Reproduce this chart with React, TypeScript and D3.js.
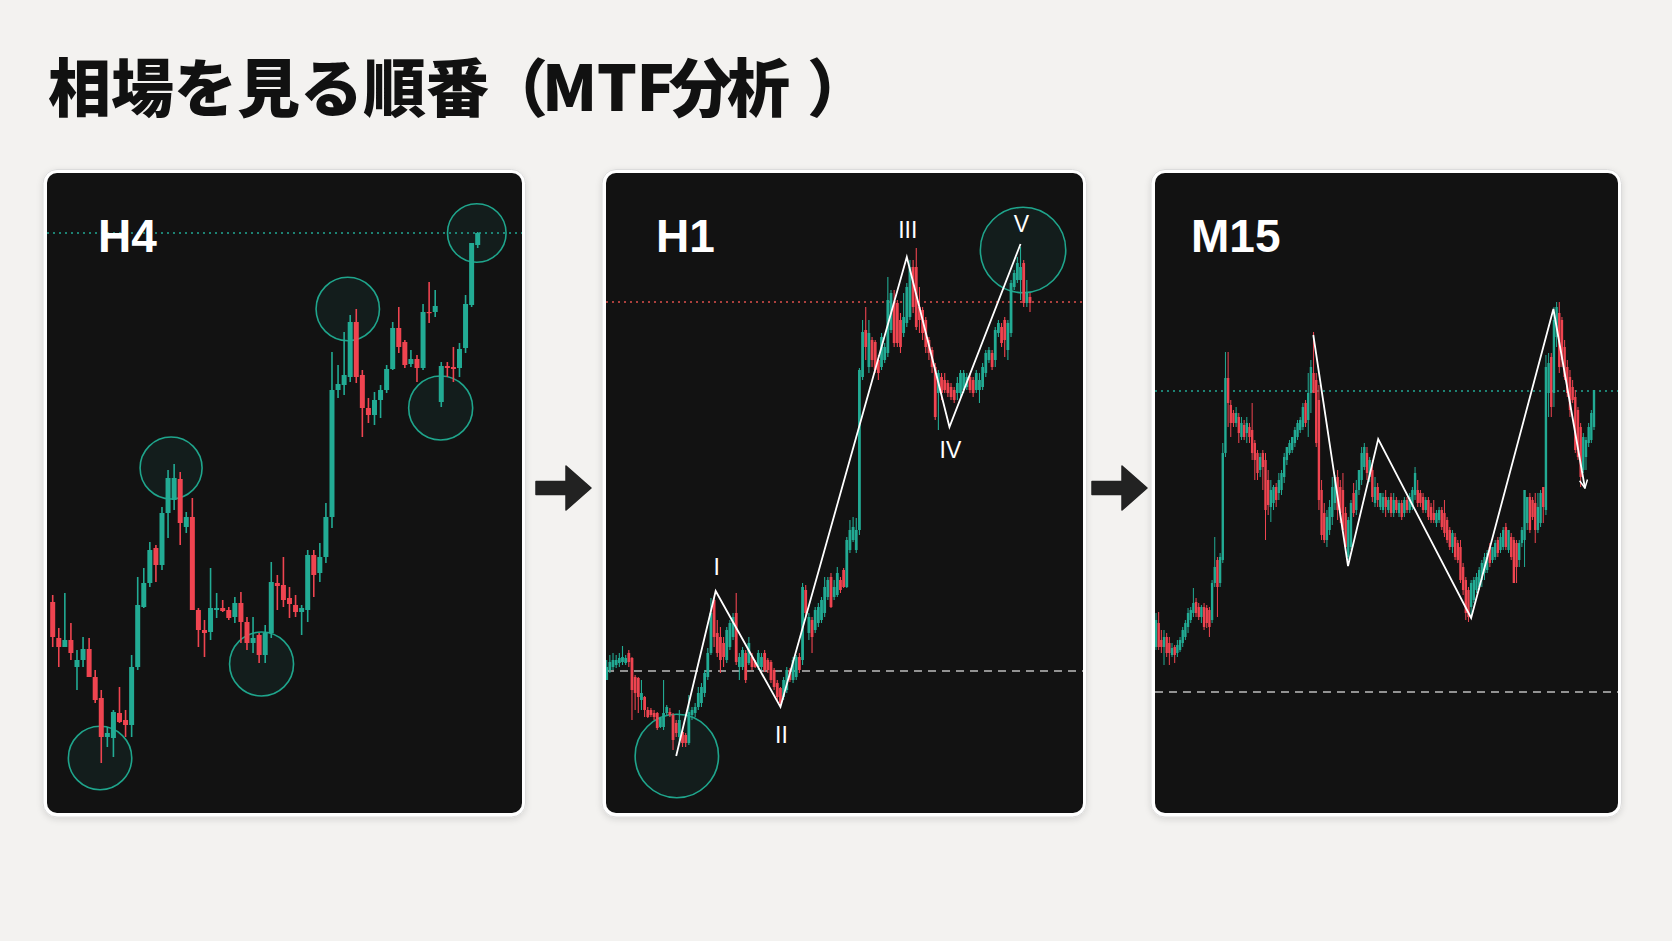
import React from "react";
import * as d3 from "d3";

type OHLC = [number, number, number, number];
type Pt = [number, number];
type Zone = [number, number, number];

const titleParts = ["相場を見る順番", "（", "MTF", "分析", "）"];
const panelLabels = ["H4", "H1", "M15"];

// ---- H4 data (price units) ----
const h4Candles: OHLC[] = [
  [398,405,353,363],[362,372,333,353],[353,407,353,360],[360,377,340,347],[333,350,310,340],
  [340,363,333,351],[351,362,323,323],[323,330,297,300],[302,310,237,263],[263,273,253,267],
  [262,290,243,288],[287,313,277,278],[280,290,263,275],[275,345,263,333],[333,423,330,395],
  [393,432,392,417],[417,458,413,450],[452,455,418,435],[435,493,430,487],[487,530,462,522],
  [500,536,490,522],[521,528,455,477],[473,488,467,483],[483,502,390,390],[390,392,353,370],
  [370,380,343,367],[368,432,360,392],[390,407,382,392],[392,400,388,389],[390,393,380,382],
  [383,403,377,397],[397,408,357,378],[378,383,350,357],[357,383,347,362],[365,367,337,345],
  [345,375,337,367],[367,438,362,418],[417,425,390,414],[415,443,393,400],[402,413,382,396],
  [395,405,383,388],[388,395,365,392],[390,450,378,445],[445,450,403,425],[427,457,418,443],
  [443,497,437,483],[483,648,472,610],[610,635,602,616],[615,668,605,625],[623,685,618,678],
  [678,691,617,623],[625,630,563,592],[592,602,577,585],[585,608,575,600],[600,615,582,610],
  [610,635,607,631],[631,678,630,672],[672,693,647,653],[658,660,632,635],[636,650,633,641],
  [641,645,618,632],[632,696,630,688],[688,718,677,687],[688,710,683,694],[598,638,593,634],
  [634,638,623,632],[633,653,618,631],[632,657,623,651],[652,705,647,696],[695,757,693,757],
  [755,768,752,767],
];
const h4Level = 767;
const h4Zones: Zone[] = [
  [7.8, 242, 31.7], [19.5, 532, 31], [34.4, 336, 32], [48.6, 691, 31.7], [63.9, 592, 32], [69.85, 767, 29.3],
];

// ---- H1 data ----
const h1Candles: OHLC[] = [
  [320,340,320,333],[330,345,327,338],[333,347,330,340],[335,345,332,340],[337,347,333,342],
  [338,354,335,343],[337,345,335,342],[347,350,333,338],[342,343,280,310],[323,325,290,307],
  [322,323,287,303],[300,320,290,307],[303,304,283,290],[290,293,282,283],[290,292,283,285],
  [287,290,280,283],[287,288,270,272],[273,283,272,282],[273,320,270,287],[287,295,285,293],
  [288,292,283,285],[285,287,250,260],[277,280,263,267],[263,290,257,280],[268,272,253,257],
  [265,267,253,257],[257,305,255,288],[285,293,280,290],[287,297,283,293],[293,313,290,307],
  [297,317,293,313],[307,330,303,327],[323,352,320,347],[347,402,345,387],[400,402,353,363],
  [367,380,343,347],[363,373,327,340],[357,363,333,343],[340,373,337,370],[353,380,350,377],
  [363,387,360,383],[387,407,335,338],[333,347,320,343],[333,353,330,350],[347,350,317,320],
  [337,363,335,357],[343,347,330,333],[338,340,332,333],[333,350,330,347],[333,347,330,343],
  [347,350,328,330],[340,342,327,330],[338,340,317,320],[330,332,310,313],[317,320,300,303],
  [312,313,293,297],[303,323,300,320],[310,333,307,330],[330,332,318,320],[320,343,317,340],
  [323,345,320,343],[343,347,327,330],[340,417,335,413],[410,415,383,387],[367,387,360,383],
  [380,383,347,363],[370,393,367,390],[377,397,373,393],[380,403,377,400],[387,423,383,413],
  [403,423,400,420],[423,427,392,393],[403,420,400,413],[405,433,403,427],[420,423,407,410],
  [430,432,412,413],[413,463,412,460],[450,480,447,470],[460,483,458,473],[450,482,447,470],
  [470,632,465,630],[623,680,620,668],[670,693,640,653],[633,680,627,667],[660,663,633,640],
  [658,660,627,630],[640,645,620,627],[633,667,630,663],[640,657,637,653],[647,723,643,700],
  [670,710,667,707],[697,710,653,657],[697,700,653,657],[680,687,647,653],[667,707,663,683],
  [677,717,673,713],[683,740,680,733],[733,740,687,693],[733,752,670,673],[693,713,667,680],
  [690,693,660,667],[680,683,647,653],[660,663,640,647],[650,653,627,633],[633,637,580,583],
  [607,630,570,627],[623,627,600,607],[620,627,607,610],[617,620,603,607],[613,617,600,603],
  [610,613,597,600],[607,623,600,617],[607,630,603,627],[610,630,607,627],[613,627,610,623],
  [623,627,607,610],[620,623,603,607],[610,630,607,627],[610,627,597,620],[613,637,610,633],
  [627,650,623,647],[640,653,637,650],[647,650,630,633],[640,673,633,670],[667,680,663,677],
  [673,677,653,657],[680,683,643,660],[650,680,640,677],[667,720,663,717],[713,730,710,727],
  [720,743,717,737],[720,753,700,733],[737,740,693,697],[697,720,693,707],[703,707,688,697],
];
const h1Resistance = 698;
const h1Support = 329;
const h1Wave: Pt[] = [[22, 244], [34.5, 409], [55, 293], [95, 743], [108.5, 573], [131, 756]];
const h1WaveLabels = ["", "I", "II", "III", "IV", "V"];
const h1Zones: Zone[] = [[22.2, 244, 41.7], [131.8, 750, 42.7]];

// ---- M15 data ----
const m15Candles: OHLC[] = [
  [353,387,350,380],[377,388,350,353],[360,370,347,353],[353,370,335,363],[363,367,343,347],
  [357,363,335,347],[345,357,343,352],[353,355,337,345],[347,360,343,355],[350,363,348,360],
  [357,373,353,370],[363,380,360,377],[373,392,367,387],[380,393,377,390],[387,412,383,397],
  [398,402,383,387],[393,397,380,383],[383,395,377,393],[393,397,370,373],[392,395,372,377],
  [390,393,363,373],[380,420,377,417],[417,463,413,433],[440,443,383,413],[417,447,413,443],
  [440,557,437,547],
  [547,648,543,622],[622,648,573,597],[595,600,563,577],[587,590,573,577],[577,593,573,587],
  [583,587,557,567],[563,583,560,577],[575,580,560,563],[567,583,557,577],[573,577,557,563],
  [570,597,540,547],[557,560,520,540],[547,550,520,527],[530,547,523,543],[547,550,510,533],
  [540,547,460,490],[520,530,485,495],[493,520,478,510],[497,515,490,513],[513,517,493,500],
  [507,527,500,520],[510,530,505,527],[523,547,517,543],[540,553,535,553],[547,560,545,557],
  [550,563,547,563],[557,573,553,570],[563,580,560,577],[570,583,567,580],[573,597,570,593],
  [597,600,573,577],[580,627,563,607],[607,640,587,633],[627,668,607,607],[620,627,553,557],
  [600,615,490,500],[510,520,460,465],[487,497,457,460],[460,490,453,483],[470,500,465,493],
  [483,523,475,513],[497,525,490,523],[523,530,480,490],[513,520,477,487],[510,527,470,470],
  [487,493,450,453],[443,483,440,480],[453,500,450,497],[507,517,483,487],[490,520,485,510],
  [510,530,505,530],[520,553,515,547],[533,557,530,553],[547,553,520,527],[523,543,518,540],
  [530,540,498,503],[497,523,493,513],[513,517,493,500],[493,507,490,507],[490,507,487,503],
  [503,510,483,493],[490,503,487,500],[503,507,483,487],[487,507,483,500],[500,503,487,490],
  [487,500,483,497],[497,500,480,483],[487,503,483,500],[500,503,487,490],[490,507,487,503],
  [493,513,490,510],[505,533,500,527],[510,520,493,497],[507,510,493,497],[503,507,487,490],
  [490,503,487,500],[500,503,480,483],[493,497,477,480],[487,500,477,480],[477,490,473,487],
  [480,493,477,490],[490,493,470,473],[487,500,463,467],[480,483,457,460],[470,473,450,453],
  [453,470,447,467],[463,467,440,443],[457,460,437,440],[453,460,417,420],[433,437,405,410],
  [420,423,380,387],[410,413,378,383],[393,420,383,417],[400,423,397,420],[410,427,407,423],
  [413,433,410,430],[420,440,413,437],[427,447,420,443],[430,450,427,447],[453,457,433,437],
  [440,453,437,453],[443,460,440,457],[460,463,443,447],[450,467,447,463],[453,473,450,470],
  [473,477,450,453],[450,470,447,470],[463,467,440,443],[460,463,417,417],[457,460,417,433],
  [440,460,433,457],[457,473,453,470],[460,510,433,510],[477,503,470,503],[503,507,467,470],
  [500,503,480,483],[497,507,457,470],[470,507,467,493],[477,510,473,507],[513,513,477,493],
  [490,645,485,633],[607,647,583,637],[643,647,583,593],[607,693,593,680],[663,698,653,693],
  [687,698,627,633],[680,683,633,640],[653,660,620,623],[633,640,603,607],[623,630,583,590],
  [613,620,597,600],[603,610,547,550],[590,593,540,543],[573,577,513,523],[530,567,527,563],
  [543,563,530,560],[557,577,553,573],[560,590,557,587],[573,610,570,610],
];
const m15Level = 609;
const m15Support = 308;
const m15Wave: Pt[] = [[58.9, 665], [71.9, 434], [83.2, 561], [118, 382], [148.8, 691], [160.6, 512]];

// ---- layout / style ----
const W = 1672, H = 941;
const UP = "#22ab94", DOWN = "#ef4450";
const TEAL_LINE = "#22a894";
const PANEL_BG = "#121212";
const priceDomain: [number, number] = [187, 827];
const plotTop = 173, plotBottom = 813;
const y = d3.scaleLinear().domain(priceDomain).range([plotBottom, plotTop]);

const panels = [
  { x: 47, w: 475, c0: 52.7, c1: 477.7, body: 5, wick: 1.6, labelX: 98 },
  { x: 606, w: 477, c0: 606.7, c1: 1030, body: 2.8, wick: 1.1, labelX: 656 },
  { x: 1155, w: 463, c0: 1156, c1: 1594, body: 2.4, wick: 1, labelX: 1191 },
];
const titleX = [48, 485, 542, 669, 807];
const titleSpacing = [0, 0, -0.5, -5, 0];
const waveLabelDy = [0, -16, 36, -19, 31, -12];

function Candles({ data, x, bodyW, wickW }: { data: OHLC[]; x: d3.ScaleLinear<number, number>; bodyW: number; wickW: number }) {
  return (
    <g>
      {data.map((d, i) => {
        const [o, h, l, c] = d;
        const col = c >= o ? UP : DOWN;
        const cx = x(i);
        const top = y(Math.max(o, c));
        const bot = y(Math.min(o, c));
        return (
          <g key={i}>
            <line x1={cx} x2={cx} y1={y(h)} y2={y(l)} stroke={col} strokeWidth={wickW} />
            <rect x={cx - bodyW / 2} y={top} width={bodyW} height={Math.max(1.2, bot - top)} fill={col} />
          </g>
        );
      })}
    </g>
  );
}

function Zones({ zones, x }: { zones: Zone[]; x: d3.ScaleLinear<number, number> }) {
  return (
    <g>
      {zones.map((z, i) => (
        <circle key={i} cx={x(z[0])} cy={y(z[1])} r={y(z[1] - z[2]) - y(z[1])}
          fill="rgba(34,171,148,0.08)" stroke="#1fa58c" strokeWidth={1.6} />
      ))}
    </g>
  );
}

function HLine({ p, x0, x1, color, dash, sw }: { p: number; x0: number; x1: number; color: string; dash: string; sw: number }) {
  return <line x1={x0} x2={x1} y1={y(p)} y2={y(p)} stroke={color} strokeWidth={sw} strokeDasharray={dash} />;
}

function Arrow({ x0, cy }: { x0: number; cy: number }) {
  const d = `M${x0},${cy - 6.5} L${x0 + 30},${cy - 6.5} L${x0 + 30},${cy - 22} L${x0 + 55},${cy} L${x0 + 30},${cy + 22} L${x0 + 30},${cy + 6.5} L${x0},${cy + 6.5} Z`;
  return <path d={d} fill="#222" stroke="#222" strokeWidth={1.5} strokeLinejoin="round" />;
}

export default function App() {
  const xs = panels.map((p, i) => {
    const n = [h4Candles, h1Candles, m15Candles][i].length;
    return d3.scaleLinear().domain([0, n - 1]).range([p.c0, p.c1]);
  });
  const line = (x: d3.ScaleLinear<number, number>) =>
    d3.line<Pt>().x((d) => x(d[0])).y((d) => y(d[1]));

  return (
    <svg width={W} height={H} style={{ position: "absolute", left: 0, top: 0, display: "block" }}
      xmlns="http://www.w3.org/2000/svg">
      <defs>
        <filter id="sh" x="-5%" y="-5%" width="110%" height="110%">
          <feDropShadow dx="0" dy="2" stdDeviation="3" floodColor="#000" floodOpacity="0.12" />
        </filter>
        {panels.map((p, i) => (
          <clipPath id={`clip${i}`} key={i}>
            <rect x={p.x} y={plotTop} width={p.w} height={plotBottom - plotTop} rx={10} />
          </clipPath>
        ))}
        <marker id="vhead" viewBox="0 0 10 10" refX="9" refY="5" markerWidth="10" markerHeight="10"
          orient="auto" markerUnits="userSpaceOnUse">
          <path d="M1,1 L9,5 L1,9" fill="none" stroke="#fff" strokeWidth={1.5} />
        </marker>
      </defs>
      <rect x={0} y={0} width={W} height={H} fill="#f3f2f0" />
      <g fontFamily="'Noto Sans CJK JP', sans-serif" fontWeight={900} fontSize={63} fill="#111">
        {titleParts.map((t, i) => (
          <text key={i} x={titleX[i]} y={111} letterSpacing={titleSpacing[i]}>{t}</text>
        ))}
      </g>

      {panels.map((p, i) => (
        <g key={i}>
          <rect x={p.x - 4} y={plotTop - 3.5} width={p.w + 7.5} height={plotBottom - plotTop + 7.5} rx={14}
            fill="#fff" stroke="#dcdcdc" strokeWidth={1} filter="url(#sh)" />
          <rect x={p.x} y={plotTop} width={p.w} height={plotBottom - plotTop} rx={10} fill={PANEL_BG} />
        </g>
      ))}

      {/* H4 */}
      <g clipPath="url(#clip0)">
        <HLine p={h4Level} x0={panels[0].x} x1={panels[0].x + panels[0].w} color={TEAL_LINE} dash="2 4" sw={1.4} />
        <Zones zones={h4Zones} x={xs[0]} />
        <Candles data={h4Candles} x={xs[0]} bodyW={panels[0].body} wickW={panels[0].wick} />
      </g>

      {/* H1 */}
      <g clipPath="url(#clip1)">
        <HLine p={h1Resistance} x0={panels[1].x} x1={panels[1].x + panels[1].w} color="#e0504c" dash="2 4" sw={1.4} />
        <HLine p={h1Support} x0={panels[1].x} x1={panels[1].x + panels[1].w} color="#bdbdbd" dash="8 6" sw={1.3} />
        <Zones zones={h1Zones} x={xs[1]} />
        <Candles data={h1Candles} x={xs[1]} bodyW={panels[1].body} wickW={panels[1].wick} />
        <path d={line(xs[1])(h1Wave) || ""} fill="none" stroke="#fff" strokeWidth={1.8} strokeLinejoin="miter" />
        {h1Wave.map((d, i) =>
          h1WaveLabels[i] ? (
            <text key={i} x={xs[1](d[0]) + 1} y={y(d[1]) + waveLabelDy[i]} textAnchor="middle"
              fontFamily="'Liberation Sans', Arial, sans-serif" fontSize={23} fill="#fff">
              {h1WaveLabels[i]}
            </text>
          ) : null
        )}
      </g>

      {/* M15 */}
      <g clipPath="url(#clip2)">
        <HLine p={m15Level} x0={panels[2].x} x1={panels[2].x + panels[2].w} color={TEAL_LINE} dash="2 4" sw={1.4} />
        <HLine p={m15Support} x0={panels[2].x} x1={panels[2].x + panels[2].w} color="#bdbdbd" dash="8 6" sw={1.3} />
        <Candles data={m15Candles} x={xs[2]} bodyW={panels[2].body} wickW={panels[2].wick} />
        <path d={line(xs[2])(m15Wave) || ""} fill="none" stroke="#fff" strokeWidth={1.8} markerEnd="url(#vhead)" />
      </g>

      {panels.map((p, i) => (
        <text key={i} x={p.labelX} y={252} fontFamily="'Liberation Sans', Arial, sans-serif" fontWeight={700}
          fontSize={46} fill="#fff">
          {panelLabels[i]}
        </text>
      ))}

      <Arrow x0={536} cy={488} />
      <Arrow x0={1092} cy={488} />
    </svg>
  );
}
